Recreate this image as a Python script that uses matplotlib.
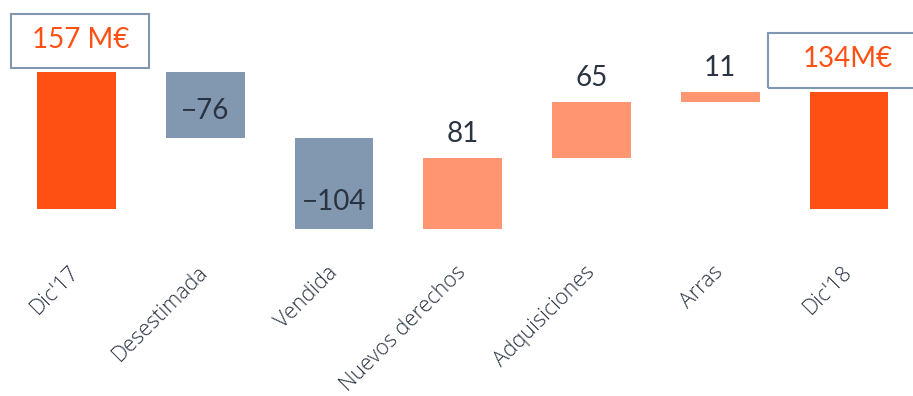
import matplotlib.pyplot as plt
from matplotlib.patches import Rectangle
import numpy as np

# Waterfall data (M€)
categories = ['Dic\'17', 'Desestimada', 'Vendida', 'Nuevos derechos',
              'Adquisiciones', 'Arras', 'Dic\'18']
start_total = 157
changes = [-76, -104, 81, 65, 11]
end_total = 134

ORANGE = '#FF5014'
GREY_BLUE = '#8198B0'
SALMON = '#FF9571'
TEXT = '#2A3342'

plt.rcParams['font.family'] = ['Lato', 'DejaVu Sans']


def main():
    # bottoms / heights for each bar
    levels = np.cumsum([start_total] + changes)
    bottoms = [0]
    heights = [start_total]
    colors = [ORANGE]
    for i, c in enumerate(changes):
        prev = levels[i]
        bottoms.append(min(prev, prev + c))
        heights.append(abs(c))
        colors.append(GREY_BLUE if c < 0 else SALMON)
    bottoms.append(0)
    heights.append(end_total)
    colors.append(ORANGE)

    fig = plt.figure(figsize=(9.13, 3.96), dpi=100)
    ax = fig.add_axes([0, 0.323, 1, 0.677])
    x = np.arange(len(categories))
    ax.bar(x, heights, bottom=bottoms, width=0.61, color=colors)

    ax.set_xlim(-0.594, 6.497)
    ax.set_ylim(-67.6, 239.4)
    for s in ax.spines.values():
        s.set_visible(False)
    ax.set_yticks([])
    ax.set_xticks(x)
    ax.set_xticklabels(categories, rotation=45, ha='right', va='center',
                       rotation_mode='anchor', fontsize=15.5, color=TEXT,
                       family=['Open Sans', 'DejaVu Sans'], fontweight='light')
    ax.tick_params(axis='x', length=0, pad=1)

    # change labels
    for i, c in enumerate(changes, start=1):
        if c < 0:
            ax.annotate(f'{c}'.replace('-', '\u2212'), (i, bottoms[i]),
                        xytext=(0, 10), textcoords='offset points',
                        ha='center', va='bottom', fontsize=20, color=TEXT)
        else:
            ax.annotate(f'{c}', (i, bottoms[i] + heights[i]),
                        xytext=(0, 8), textcoords='offset points',
                        ha='center', va='bottom', fontsize=20, color=TEXT)

    # total boxes (frames drawn in figure fraction)
    W, H = 913.0, 396.0
    for (x0, y0, x1, y1) in [(11, 14, 149, 68), (768, 33, 930, 88)]:
        fig.add_artist(Rectangle((x0 / W, 1 - y1 / H), (x1 - x0) / W,
                                 (y1 - y0) / H, transform=fig.transFigure,
                                 facecolor='none', edgecolor=GREY_BLUE,
                                 linewidth=1.5, zorder=3))
    ax.annotate(f'{start_total} M€', (0, start_total), xytext=(3, 23),
                textcoords='offset points', ha='center', va='center',
                fontsize=20, color=ORANGE, annotation_clip=False)
    ax.annotate(f'{end_total}M€', (6, end_total), xytext=(-1, 24),
                textcoords='offset points', ha='center', va='center',
                fontsize=20, color=ORANGE, annotation_clip=False)

    fig.savefig('out.png', dpi=100)


if __name__ == "__main__":
    main()
